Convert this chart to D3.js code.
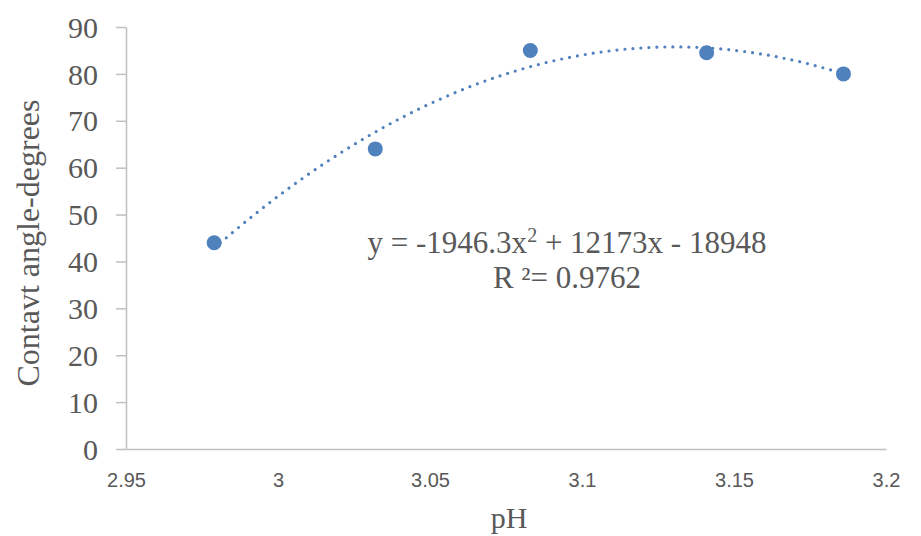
<!DOCTYPE html>
<html>
<head>
<meta charset="utf-8">
<script src="https://cdn.jsdelivr.net/npm/d3@7"></script>
<style>
  body { margin: 0; background: #fff; }
</style>
</head>
<body>
<div id="chart"></div>
<script>
// measured points (pH vs contact angle)
var phValues = [2.979, 3.032, 3.083, 3.141, 3.186];
var angleValues = [44, 64, 85, 84.5, 80];
var xTicks = [2.95, 3, 3.05, 3.1, 3.15, 3.2];
var yTicks = [0, 10, 20, 30, 40, 50, 60, 70, 80, 90];
var equationText = "y = -1946.3x";
var equationRest = " + 12173x - 18948";
var r2Text = "R \u00B2= 0.9762";

var svgWidth = 921;
var svgHeight = 536;

var plot = { left: 126, right: 886, top: 27, bottom: 449 };

var blue = "#4f81bd";
var axisGrey = "#bfbfbf";
var textGrey = "#595959";
var serif = "'Liberation Serif', 'Times New Roman', serif";
var sans = "'Liberation Sans', Arial, sans-serif";

var svg = d3.select("#chart")
  .append("svg")
  .attr("width", svgWidth)
  .attr("height", svgHeight);

svg.append("rect")
  .attr("width", svgWidth)
  .attr("height", svgHeight)
  .attr("fill", "#fff");

var xScale = d3.scaleLinear().domain([2.95, 3.2]).range([plot.left, plot.right]);
var yScale = d3.scaleLinear().domain([0, 90]).range([plot.bottom, plot.top]);

// y axis (line + outer tick marks)
var yAxis = svg.append("g")
  .attr("transform", `translate(${plot.left},0)`)
  .call(d3.axisLeft(yScale).tickValues(yTicks).tickSize(10).tickFormat(d3.format("d")).tickSizeOuter(0));
yAxis.style("font-family", serif).style("font-size", "30px");
yAxis.select(".domain").attr("stroke", axisGrey).attr("stroke-width", 1.5);
yAxis.selectAll(".tick line").attr("stroke", axisGrey).attr("stroke-width", 1.5);
yAxis.selectAll(".tick text")
  .attr("x", -28)
  .attr("dy", "0.34em")
  .attr("fill", textGrey)
  .style("font-family", serif)
  .style("font-size", "30px");

// x axis: line only, labels below
var xAxis = svg.append("g")
  .attr("transform", `translate(0,${plot.bottom})`)
  .call(d3.axisBottom(xScale).tickValues(xTicks).tickSize(0).tickFormat(d3.format("")).tickSizeOuter(0));
xAxis.style("font-family", sans).style("font-size", "20px");
xAxis.select(".domain").attr("stroke", axisGrey).attr("stroke-width", 1.5);
xAxis.selectAll(".tick text")
  .attr("y", 38)
  .attr("dy", 0)
  .attr("fill", textGrey);

// axis titles
svg.append("text")
  .attr("x", 509)
  .attr("y", 528)
  .attr("text-anchor", "middle")
  .attr("fill", textGrey)
  .style("font-family", serif)
  .style("font-size", "30px")
  .text("pH");

svg.append("text")
  .attr("transform", "translate(39,243) rotate(-90)")
  .attr("text-anchor", "middle")
  .attr("fill", textGrey)
  .style("font-family", serif)
  .style("font-size", "32px")
  .text("Contavt angle-degrees");

// polynomial (order 2) least-squares trendline from the points
function quadFit(xs, ys) {
  var mx = d3.mean(xs);
  var s = [0, 0, 0, 0, 0], t = [0, 0, 0];
  xs.forEach(function(x, i) {
    var u = x - mx;
    for (var k = 0; k < 5; k++) s[k] += Math.pow(u, k);
    for (var k2 = 0; k2 < 3; k2++) t[k2] += ys[i] * Math.pow(u, k2);
  });
  // solve [s0 s1 s2; s1 s2 s3; s2 s3 s4] c = t
  var m = [[s[0], s[1], s[2], t[0]], [s[1], s[2], s[3], t[1]], [s[2], s[3], s[4], t[2]]];
  for (var i = 0; i < 3; i++) {
    for (var j = i + 1; j < 3; j++) {
      var f = m[j][i] / m[i][i];
      for (var k3 = i; k3 < 4; k3++) m[j][k3] -= f * m[i][k3];
    }
  }
  var c = [0, 0, 0];
  for (var i2 = 2; i2 >= 0; i2--) {
    var sum = m[i2][3];
    for (var j2 = i2 + 1; j2 < 3; j2++) sum -= m[i2][j2] * c[j2];
    c[i2] = sum / m[i2][i2];
  }
  return function(x) { var u = x - mx; return c[0] + c[1] * u + c[2] * u * u; };
}

var fit = quadFit(phValues, angleValues);
var xMin = d3.min(phValues), xMax = d3.max(phValues);
var fitPoints = d3.range(0, 101).map(function(i) {
  var x = xMin + (xMax - xMin) * i / 100;
  return [x, fit(x)];
});

svg.append("path")
  .datum(fitPoints)
  .attr("fill", "none")
  .attr("stroke", blue)
  .attr("stroke-width", 3.2)
  .attr("stroke-linecap", "round")
  .attr("stroke-dasharray", "0 8")
  .attr("d", d3.line().x(d => xScale(d[0])).y(d => yScale(d[1])));

// markers
svg.selectAll("circle.pt")
  .data(phValues)
  .enter()
  .append("circle")
  .attr("class", "pt")
  .attr("cx", d => xScale(d))
  .attr("cy", (d, i) => yScale(angleValues[i]))
  .attr("r", 7.5)
  .attr("fill", blue);

// trendline equation label
var eq = svg.append("text")
  .attr("x", 567)
  .attr("y", 253)
  .attr("text-anchor", "middle")
  .attr("fill", textGrey)
  .style("font-family", serif)
  .style("font-size", "31px");
eq.append("tspan").text(equationText);
eq.append("tspan").attr("dy", -11).style("font-size", "20px").text("2");
eq.append("tspan").attr("dy", 11).text(equationRest);

svg.append("text")
  .attr("x", 567)
  .attr("y", 288)
  .attr("text-anchor", "middle")
  .attr("fill", textGrey)
  .style("font-family", serif)
  .style("font-size", "31px")
  .text(r2Text);
</script>
</body>
</html>
